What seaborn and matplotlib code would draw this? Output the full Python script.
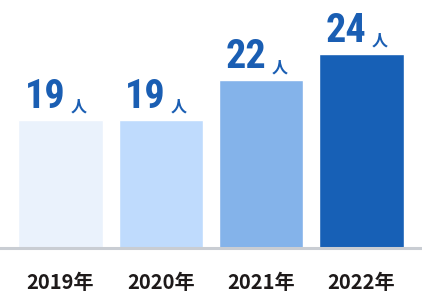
import matplotlib
matplotlib.use("Agg")
import matplotlib.pyplot as plt
import seaborn as sns
import pandas as pd

years = ["2019年", "2020年", "2021年", "2022年"]
values = [19, 19, 22, 24]
unit = "人"
bar_colors = ["#EAF2FC", "#BFDBFD", "#84B3EA", "#1760B6"]
label_color = "#1A5EB3"

sns.set_style("white")
plt.rcParams["font.family"] = ["Noto Sans CJK JP", "DejaVu Sans"]

df = pd.DataFrame({"year": years, "value": values})

fig = plt.figure(figsize=(4.22, 2.95), dpi=100)
ax = fig.add_axes([0, 47 / 295, 1, 248 / 295])
sns.barplot(data=df, x="year", y="value", hue="year", palette=bar_colors,
            legend=False, width=0.84, saturation=1, ax=ax)

ax.set_xlim(-0.603, 3.603)
ax.set_ylim(9.30, 28.09)
ax.set_xlabel("")
ax.set_ylabel("")
ax.set_yticks([])
for s in ["top", "left", "right"]:
    ax.spines[s].set_visible(False)
ax.spines["bottom"].set_color("#C9CDD3")
ax.spines["bottom"].set_linewidth(2.2)
ax.tick_params(axis="x", length=0, pad=17, labelsize=14.5, labelcolor="#1E1A1A")
for t in ax.get_xticklabels():
    t.set_fontweight("bold")

num_family = ["Roboto Condensed", "DejaVu Sans Condensed", "Liberation Sans Narrow",
              "Roboto", "DejaVu Sans"]
for i, v in enumerate(values):
    ax.annotate(str(v), xy=(i, v), xytext=(5, 4), textcoords="offset pixels",
                ha="right", va="bottom", fontsize=29, fontweight="bold",
                fontstretch="condensed", color=label_color, family=num_family)
    ax.annotate(unit, xy=(i, v), xytext=(10, 5), textcoords="offset pixels",
                ha="left", va="bottom", fontsize=11.5, fontweight="bold",
                color=label_color,
                family=["Noto Sans CJK JP", "DejaVu Sans"])

fig.savefig("out.png", dpi=100)
